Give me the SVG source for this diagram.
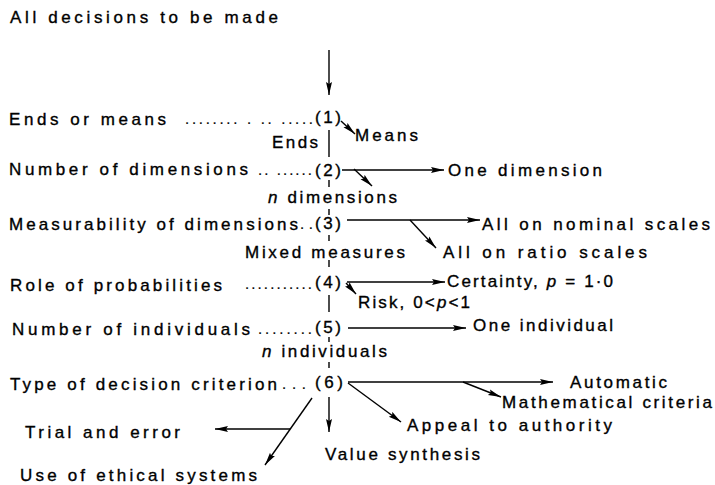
<svg xmlns="http://www.w3.org/2000/svg" width="715" height="485" viewBox="0 0 715 485">
<style>
text{font-family:"Liberation Sans",Arial,sans-serif;font-size:17px;fill:#000;stroke:#000;stroke-width:0.35}
.dots{font-size:15px;stroke-width:0.2}
.it{font-style:italic}
.ln{stroke:#000;stroke-width:1.4;fill:none}
.ar{stroke:#000;stroke-width:1.4;fill:none;marker-end:url(#ah)}
</style>
<defs>
<marker id="ah" markerUnits="userSpaceOnUse" markerWidth="14" markerHeight="8" refX="13" refY="3.5" orient="auto">
<path d="M0,0.5 L13,3.5 L0,6.5 L2,3.5 z" fill="#000"/>
</marker>
</defs>
<rect width="715" height="485" fill="#fff"/>
<g id="connectors">
<path class="ar" d="M329,50 V95"/>
<path class="ar" d="M341,121 L355,134"/>
<path class="ln" d="M329,130 V157"/>
<path class="ar" d="M342,170 H444"/>
<path class="ar" d="M354,169 L372,186"/>
<path class="ln" d="M329,180 V187 M329,209 V215 M329,235 V241 M329,260 V267"/>
<path class="ar" d="M347,220 H480"/>
<path class="ar" d="M410,220 L436,248"/>
<path class="ar" d="M347,282 H445"/>
<path class="ar" d="M346,283 L356,294"/>
<path class="ln" d="M329,295 V312"/>
<path class="ar" d="M348,328 H466"/>
<path class="ln" d="M329,337 V342 M329,362 V368"/>
<path class="ar" d="M348,382 H553"/>
<path class="ar" d="M463,382 L501,397"/>
<path class="ar" d="M348,383 L401,422"/>
<path class="ar" d="M329,397 V432"/>
<path class="ar" d="M312,398 L265,465"/>
<path class="ar" d="M290,429 H215"/>
</g>
<g id="start"><text x="10" y="23" textLength="268" lengthAdjust="spacing">All decisions to be made</text></g>
<g id="q1">
<text x="9" y="125" textLength="157" lengthAdjust="spacing">Ends or means</text>
<text class="dots" x="185" y="124" textLength="128" lengthAdjust="spacing">........ . .. .....</text>
<text x="315" y="123" textLength="26" lengthAdjust="spacing">(1)</text>
</g>
<g id="means"><text x="355" y="141" textLength="63" lengthAdjust="spacing">Means</text></g>
<g id="ends"><text x="272" y="148" textLength="46" lengthAdjust="spacing">Ends</text></g>
<g id="q2">
<text x="9" y="175" textLength="239" lengthAdjust="spacing">Number of dimensions</text>
<text class="dots" x="258" y="175" textLength="54" lengthAdjust="spacing">.. ......</text>
<text x="315" y="176" textLength="26" lengthAdjust="spacing">(2)</text>
</g>
<g id="onedim"><text x="448" y="176" textLength="154" lengthAdjust="spacing">One dimension</text></g>
<g id="ndim"><text x="268" y="203" textLength="129" lengthAdjust="spacing"><tspan class="it">n</tspan> dimensions</text></g>
<g id="q3">
<text x="9" y="230" textLength="289" lengthAdjust="spacing">Measurability of dimensions</text>
<text class="dots" x="300" y="229" textLength="13" lengthAdjust="spacing">..</text>
<text x="315" y="229" textLength="26" lengthAdjust="spacing">(3)</text>
</g>
<g id="nominal"><text x="482" y="230" textLength="228" lengthAdjust="spacing">All on nominal scales</text></g>
<g id="mixed"><text x="245" y="258" textLength="160" lengthAdjust="spacing">Mixed measures</text></g>
<g id="ratio"><text x="443" y="258" textLength="204" lengthAdjust="spacing">All on ratio scales</text></g>
<g id="q4">
<text x="10" y="291" textLength="212" lengthAdjust="spacing">Role of probabilities</text>
<text class="dots" x="245" y="289" textLength="67" lengthAdjust="spacing">...........</text>
<text x="315" y="288" textLength="26" lengthAdjust="spacing">(4)</text>
</g>
<g id="certainty"><text x="447" y="287" textLength="166" lengthAdjust="spacing">Certainty, <tspan class="it">p</tspan> = 1·0</text></g>
<g id="risk"><text x="358" y="308" textLength="112" lengthAdjust="spacing">Risk, 0&lt;<tspan class="it">p</tspan>&lt;1</text></g>
<g id="q5">
<text x="12" y="335" textLength="238" lengthAdjust="spacing">Number of individuals</text>
<text class="dots" x="258" y="334" textLength="54" lengthAdjust="spacing">........</text>
<text x="315" y="333" textLength="26" lengthAdjust="spacing">(5)</text>
</g>
<g id="oneind"><text x="473" y="331" textLength="140" lengthAdjust="spacing">One individual</text></g>
<g id="nind"><text x="262" y="357" textLength="125" lengthAdjust="spacing"><tspan class="it">n</tspan> individuals</text></g>
<g id="q6">
<text x="10" y="390" textLength="267" lengthAdjust="spacing">Type of decision criterion</text>
<text class="dots" x="282" y="389" textLength="24" lengthAdjust="spacing">. . .</text>
<text x="315" y="388" textLength="28" lengthAdjust="spacing">(6)</text>
</g>
<g id="automatic"><text x="570" y="388" textLength="97" lengthAdjust="spacing">Automatic</text></g>
<g id="math"><text x="502" y="408" textLength="210" lengthAdjust="spacing">Mathematical criteria</text></g>
<g id="appeal"><text x="407" y="431" textLength="205" lengthAdjust="spacing">Appeal to authority</text></g>
<g id="value"><text x="325" y="460" textLength="155" lengthAdjust="spacing">Value synthesis</text></g>
<g id="trial"><text x="25" y="438" textLength="155" lengthAdjust="spacing">Trial and error</text></g>
<g id="ethical"><text x="20" y="481" textLength="237" lengthAdjust="spacing">Use of ethical systems</text></g>
</svg>
